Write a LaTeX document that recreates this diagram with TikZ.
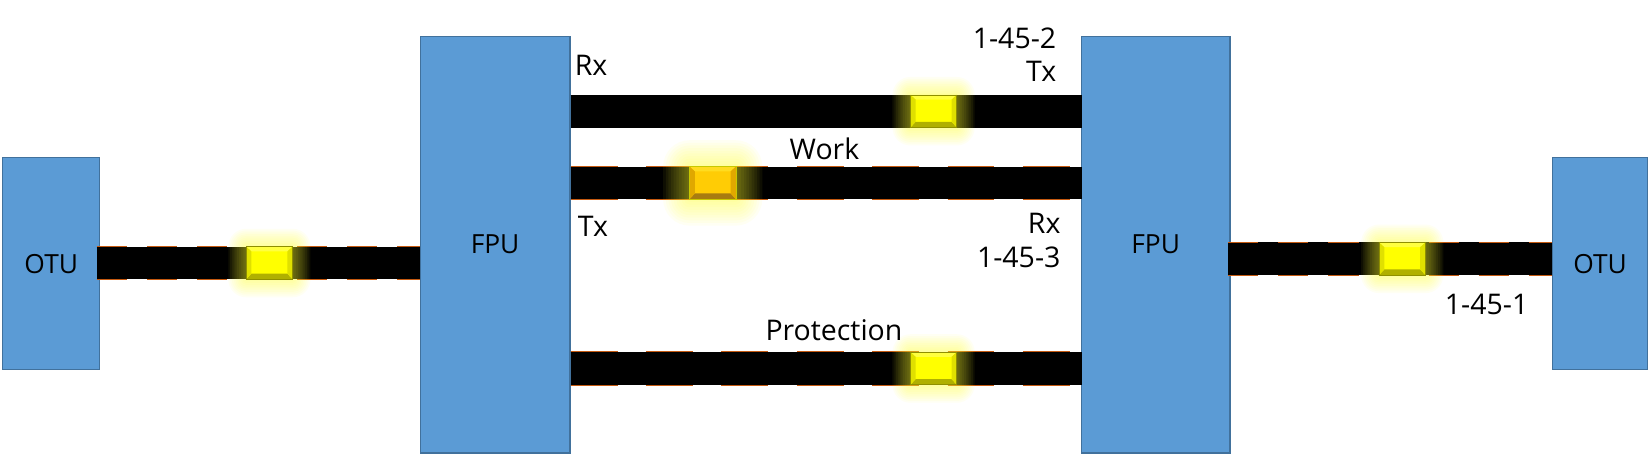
\documentclass[tikz,border=0pt]{standalone}
\usepackage{fontspec}
\setmainfont{Open Sans}
\usetikzlibrary{calc}
\definecolor{boxfill}{HTML}{5B9BD5}
\definecolor{boxline}{HTML}{41719C}
\definecolor{edgeor}{HTML}{C55A11}
\definecolor{yfill}{HTML}{FFFF00}
\definecolor{ytop}{HTML}{FFFF40}
\definecolor{yside}{HTML}{E0E000}
\definecolor{ybot}{HTML}{B0B000}
\definecolor{yline}{HTML}{8F8F00}
\definecolor{gfill}{HTML}{FFCC05}
\definecolor{gtop}{HTML}{FFDC20}
\definecolor{gside}{HTML}{E0A800}
\definecolor{gbot}{HTML}{A87C10}
\definecolor{gline}{HTML}{C8C800}
\definecolor{glowc}{HTML}{FFFF30}
\tikzset{
  unitbox/.style={draw=boxline,line width=1.2pt,fill=boxfill,inner sep=0pt,anchor=north west,font=\fontsize{25}{25}\selectfont},
  fibre/.style={line width=31pt,black,line cap=butt},
  lbl/.style={inner sep=0pt,font=\fontsize{27}{27}\selectfont,text=black},
}
\newcommand{\fibreedge}[4]{% from, to, on, off
  \draw[edgeor,line width=1pt,dash pattern=on #3pt off #4pt] ($(#1)+(0,-15.7)$) -- ($(#2)+(0,-15.7)$);
  \draw[edgeor,line width=1pt,dash pattern=on #3pt off #4pt] ($(#1)+(0,15.7)$) -- ($(#2)+(0,15.7)$);
}
% name, cx, cy, colour prefix (y/g), glow step
\newcommand{\lamp}[5]{%
  \coordinate (#1) at (#2,#3);
  \foreach \n in {1,...,10}{
    \pgfmathsetmacro{\g}{\n*#5}
    \fill[glowc,opacity=.055,rounded corners=\g pt] ($(#1)+(-22-\g,-15.5-\g)$) rectangle ($(#1)+(22+\g,15.5+\g)$);
  }
  \fill[#4fill] ($(#1)+(-22,-15.5)$) rectangle ($(#1)+(22,15.5)$);
  \fill[#4top] ($(#1)+(-22,-15.5)$) -- ($(#1)+(22,-15.5)$) -- ($(#1)+(17,-11)$) -- ($(#1)+(-17,-11)$) -- cycle;
  \fill[#4bot] ($(#1)+(-22,15.5)$) -- ($(#1)+(22,15.5)$) -- ($(#1)+(17,10)$) -- ($(#1)+(-17,10)$) -- cycle;
  \fill[#4side] ($(#1)+(-22,-15.5)$) -- ($(#1)+(-17,-11)$) -- ($(#1)+(-17,10)$) -- ($(#1)+(-22,15.5)$) -- cycle;
  \fill[#4side] ($(#1)+(22,-15.5)$) -- ($(#1)+(17,-11)$) -- ($(#1)+(17,10)$) -- ($(#1)+(22,15.5)$) -- cycle;
  \draw[#4line,line width=.7pt] ($(#1)+(-22,-15.5)$) rectangle ($(#1)+(22,15.5)$);
}
\begin{document}
\begin{tikzpicture}[x=1pt,y=-1pt]
\useasboundingbox (0,0) rectangle (1565,429.7);
\fill[white] (0,0) rectangle (1565,429.7);
\node[unitbox,minimum width=92pt,minimum height=201pt] (otuL) at (2,149) {OTU};
\node[unitbox,minimum width=142pt,minimum height=395pt] (fpuL) at (398,34) {FPU};
\node[unitbox,minimum width=141pt,minimum height=395pt] (fpuR) at (1025,34) {FPU};
\node[unitbox,minimum width=90pt,minimum height=201pt] (otuR) at (1472,149) {OTU};
% fibres
\coordinate (a1) at (92,249.5);   \coordinate (a2) at (fpuL.west |- a1);
\coordinate (b1) at (fpuL.east |- 0,105.5); \coordinate (b2) at (1026,105.5);
\coordinate (c1) at (fpuL.east |- 0,173.5); \coordinate (c2) at (1026,173.5);
\coordinate (d1) at (fpuL.east |- 0,349.5); \coordinate (d2) at (1026,349.5);
\coordinate (e1) at (1165,245.5); \coordinate (e2) at (otuR.west |- e1);
\draw[fibre] (a1) -- (a2);
\draw[fibre] (b1) -- (b2);
\draw[fibre] (c1) -- (c2);
\draw[fibre] (d1) -- (d2);
\draw[fibre] (e1) -- (e2);
\fibreedge{a1}{a2}{28.5}{19}
\fibreedge{c1}{c2}{44.5}{27}
\fibreedge{d1}{d2}{44.5}{27}
\fibreedge{e1}{e2}{28.5}{19}
\lamp{la}{255.5}{249.5}{y}{1.7}
\lamp{lb}{885.5}{105.5}{y}{1.7}
\lamp{lc}{676}{173.5}{g}{2.5}
\lamp{ld}{885.5}{349.5}{y}{1.7}
\lamp{le}{1330}{245.5}{y}{1.7}
% labels
\node[lbl,anchor=west] (t1) at (545,62) {Rx};
\node[lbl,anchor=west] (t2) at (548,215) {Tx};
\node[lbl,anchor=east] (t3) at (1002,36) {1-45-2};
\node[lbl,anchor=east] (t4) at (1002,68) {Tx};
\node[lbl] (t5) at (782,141) {Work};
\node[lbl,anchor=east] (t6) at (1006,212) {Rx};
\node[lbl,anchor=east] (t7) at (1006,244) {1-45-3};
\node[lbl] (t8) at (791,313) {Protection};
\node[lbl] (t9) at (1410,289) {1-45-1};
\end{tikzpicture}
\end{document}
